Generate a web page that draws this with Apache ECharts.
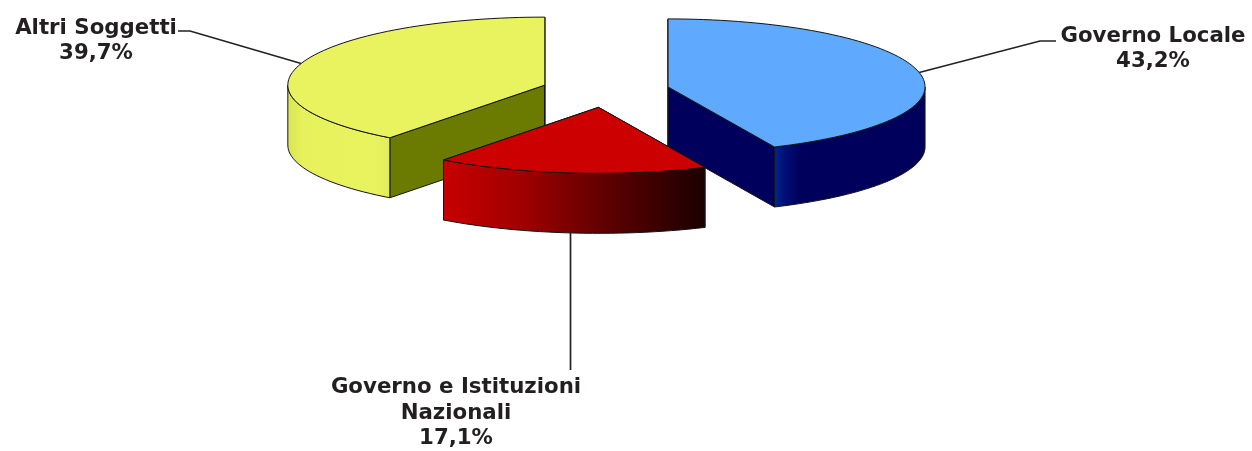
<!DOCTYPE html>
<html>
<head>
<meta charset="utf-8">
<script src="https://cdn.jsdelivr.net/npm/echarts@6/dist/echarts.min.js"></script>
<style>
html, body { margin: 0; padding: 0; background: #fff; }
#main { width: 1252px; height: 451px; }
</style>
</head>
<body>
<div id="main"></div>
<script>
// dati
var categories = ['Governo Locale', 'Governo e Istituzioni\nNazionali', 'Altri Soggetti'];
var percentages = [43.2, 17.1, 39.7];

// colori per fetta
var topColors = ['#5fa9ff', '#cc0000', '#e8f35f'];
var cutColors = ['#00005c', '#00005c', '#6b7a00'];
var wallStops = [
	[[0, '#002a96'], [0.06, '#00107a'], [0.17, '#00005c'], [1, '#00005c']],
	[[0, '#c80000'], [0.3, '#a00000'], [0.7, '#500000'], [1, '#1c0000']],
	[[0, '#d8e450'], [0.15, '#e6f15c'], [0.85, '#e8f35f'], [1, '#e0ec58']]
];

// geometria della torta (la metà davanti è un po' più schiacciata)
var centerX = 605.5, centerY = 90.5;
var radiusX = 257, radiusBack = 68, radiusFront = 66, depth = 60, explode = 64;

// etichette: gomito della linea e centro del testo
var leaderBends = [
	[[1040, 41], [1056, 41]],
	[[570.5, 370]],
	[[190, 31], [178, 31]]
];
var labelCenters = [[1153, 49], [456, 413], [96, 41]];

function rad(deg) {
	return deg * Math.PI / 180;
}

function rimPoint(apex, deg, drop) {
	var c = Math.cos(rad(deg));
	return [
		apex[0] + radiusX * Math.sin(rad(deg)),
		apex[1] - (c < 0 ? radiusFront : radiusBack) * c + (drop || 0)
	];
}

function arcPoints(apex, from, to, drop) {
	var pts = [];
	var steps = Math.max(2, Math.ceil((to - from) / 2));
	for (var i = 0; i <= steps; i++) {
		pts.push(rimPoint(apex, from + (to - from) * i / steps, drop));
	}
	return pts;
}

function renderSlice(params, api) {
	var idx = params.dataIndex;
	var start = 0;
	for (var i = 0; i < idx; i++) {
		start += percentages[i] * 3.6;
	}
	var value = api.value(1);
	var end = start + value * 3.6;
	var mid = (start + end) / 2;
	// la fetta si stacca lungo la bisettrice
	var apex = [
		centerX + explode * Math.sin(rad(mid)),
		centerY - explode * radiusBack / radiusX * Math.cos(rad(mid))
	];
	var order = Math.round(-Math.cos(rad(mid)) * 10) + 20; // davanti = sopra
	var line = '#141414';
	var children = [];

	function face(points, fill, z) {
		children.push({
			type: 'polygon',
			z2: order + z,
			shape: { points: points },
			style: { fill: fill, stroke: line, lineWidth: 1 }
		});
	}

	// facce del taglio
	[start, end].forEach(function(deg) {
		var rim = rimPoint(apex, deg);
		face([apex, rim, [rim[0], rim[1] + depth], [apex[0], apex[1] + depth]], cutColors[idx], 0);
	});

	// parete esterna, solo la parte verso chi guarda
	var wallFrom = Math.max(start, 90), wallTo = Math.min(end, 270);
	if (wallTo > wallFrom) {
		var upper = arcPoints(apex, wallFrom, wallTo, 0);
		var lower = arcPoints(apex, wallFrom, wallTo, depth).reverse();
		face(upper.concat(lower), {
			type: 'linear', x: 0, y: 0, x2: 1, y2: 0,
			colorStops: wallStops[idx].map(function(s) {
				return { offset: s[0], color: s[1] };
			})
		}, 0.1);
	}

	// faccia superiore
	face([apex].concat(arcPoints(apex, start, end, 0)), topColors[idx], 0.2);

	// linea guida
	var isFront = Math.cos(rad(mid)) < 0;
	var from = rimPoint(apex, mid, isFront ? depth : 0);
	if (isFront) {
		from[0] = leaderBends[idx][0][0]; // verticale
	}
	children.push({
		type: 'polyline',
		z2: order - 1,
		shape: { points: [from].concat(leaderBends[idx]) },
		style: { fill: 'none', stroke: '#222', lineWidth: 1.7 }
	});

	// etichetta
	children.push({
		type: 'text',
		z2: 50,
		style: {
			x: labelCenters[idx][0],
			y: labelCenters[idx][1],
			text: categories[idx] + '\n' + value.toFixed(1).replace('.', ',') + '%',
			align: 'center',
			verticalAlign: 'middle',
			fill: '#231f20',
			font: 'bold 21.3px "DejaVu Sans"',
			lineHeight: 25.5
		}
	});

	return { type: 'group', children: children };
}

var myChart = echarts.init(document.getElementById('main'), null, { renderer: 'canvas' });
var option = {
	animation: false,
	backgroundColor: '#fff',
	series: [{
		type: 'custom',
		coordinateSystem: 'none',
		silent: true,
		renderItem: renderSlice,
		data: categories.map(function(name, i) {
			return [i, percentages[i]];
		})
	}]
};
myChart.setOption(option);
</script>
</body>
</html>
